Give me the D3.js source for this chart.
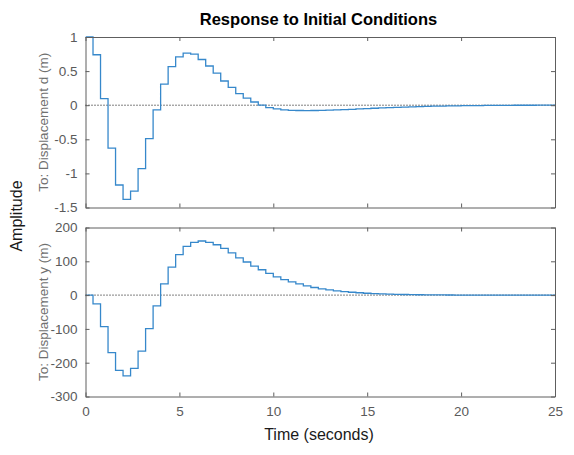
<!DOCTYPE html>
<html><head><meta charset="utf-8">
<script src="https://cdn.jsdelivr.net/npm/d3@7"></script>
<style>body{margin:0;background:#fff;}svg{display:block;font-family:"Liberation Sans",Arial,sans-serif;}</style>
</head><body>
<svg id="c" width="574" height="455"></svg>
<script>
const Ts = 0.4;
const xTicks = [0, 5, 10, 15, 20, 25];
const dTicks = [1, 0.5, 0, -0.5, -1, -1.5];
const yTicks = [200, 100, 0, -100, -200, -300];
const dValues = [1.0, 0.74, 0.095, -0.63, -1.17, -1.38, -1.26, -0.93, -0.49, -0.07,
  0.31, 0.565, 0.71, 0.765, 0.75, 0.67, 0.575, 0.47, 0.355, 0.26,
  0.17, 0.105, 0.047, 0.0, -0.035, -0.055, -0.068, -0.075, -0.078, -0.079,
  -0.078, -0.076, -0.073, -0.069, -0.065, -0.06, -0.055, -0.05, -0.045, -0.04,
  -0.036, -0.032, -0.028, -0.024, -0.021, -0.018, -0.015, -0.013, -0.011, -0.009,
  -0.007, -0.006, -0.005, -0.004, -0.003, -0.002, -0.002, -0.001, -0.001, -0.001,
  0, 0, 0];
const yValues = [0, -26, -93, -170, -223, -239, -217, -166, -99, -32,
  33, 83, 120, 144, 156, 160, 156, 149, 138, 125,
  110, 98, 86, 75, 64, 54, 46, 39, 33, 27.5,
  22.5, 18.5, 15.5, 12.5, 10.5, 8.5, 7, 5.5, 4.5, 3.6,
  2.9, 2.3, 1.8, 1.4, 1.1, 0.8, 0.6, 0.4, 0.3, 0.2,
  0.1, 0.05, 0, 0, 0, 0, 0, 0, 0, 0,
  0, 0, 0];
const yLabels = ["To: Displacement d (m)", "To: Displacement y (m)"];

const svg = d3.select("#c");
const L = 85.5, R = 555;
const x = d3.scaleLinear().domain([0, 25]).range([L, R]);
const fmt = d => String(d);
const panels = [
  {vals: dValues, ticks: dTicks, dom: [-1.5, 1], top: 37, bot: 207.5, label: yLabels[0]},
  {vals: yValues, ticks: yTicks, dom: [-300, 200], top: 227.5, bot: 396.5, label: yLabels[1]}
];
const axisCol = "#5e5e5e", textCol = "#5a5a5a";

panels.forEach((p, i) => {
  const y = d3.scaleLinear().domain(p.dom).range([p.bot, p.top]);
  const g = svg.append("g");
  const cid = "clip" + i;
  svg.append("clipPath").attr("id", cid).append("rect")
    .attr("x", L).attr("y", p.top - 1).attr("width", R - L).attr("height", p.bot - p.top + 2);
  g.append("line").attr("x1", L).attr("x2", R).attr("y1", y(0)).attr("y2", y(0))
    .attr("stroke", "#000").attr("stroke-width", 1).attr("stroke-dasharray", "1,2");
  const pts = p.vals.map((v, k) => [k * Ts, v]);
  pts.push([p.vals.length * Ts, p.vals[p.vals.length - 1]]);
  g.append("path").attr("clip-path", `url(#${cid})`)
    .attr("d", d3.line().x(d => x(d[0])).y(d => y(d[1])).curve(d3.curveStepAfter)(pts))
    .attr("fill", "none").attr("stroke", "#3688cb").attr("stroke-width", 1.3);
  const ax = (gen, tx, ty) => {
    const a = svg.append("g").attr("transform", `translate(${tx},${ty})`).call(gen);
    a.select(".domain").attr("stroke", axisCol);
    a.selectAll(".tick line").attr("stroke", axisCol);
    a.selectAll("text").attr("fill", textCol).attr("font-size", 13.5).attr("font-family", '"Liberation Sans",Arial,sans-serif');
    return a;
  };
  ax(d3.axisLeft(y).tickValues(p.ticks).tickSize(-4).tickSizeOuter(0).tickPadding(8).tickFormat(fmt), L, 0);
  ax(d3.axisRight(y).tickValues(p.ticks).tickSize(-4).tickSizeOuter(0).tickFormat(""), R, 0);
  ax(d3.axisTop(x).tickValues(xTicks).tickSize(-4).tickSizeOuter(0).tickFormat(""), 0, p.top);
  ax(d3.axisBottom(x).tickValues(xTicks).tickSize(-4).tickSizeOuter(0).tickPadding(10)
    .tickFormat(i === 1 ? fmt : ""), 0, p.bot);
  svg.append("text").attr("transform", `translate(44,${(p.top + p.bot) / 2}) rotate(-90)`)
    .attr("text-anchor", "middle").attr("dominant-baseline", "middle")
    .attr("font-size", 13.5).attr("fill", "#707070").text(p.label);
});

svg.append("text").attr("x", 318.5).attr("y", 25).attr("text-anchor", "middle")
  .attr("font-size", 16.5).attr("font-weight", "bold").attr("fill", "#000").text("Response to Initial Conditions");
svg.append("text").attr("x", 319).attr("y", 440).attr("text-anchor", "middle")
  .attr("font-size", 16).attr("fill", "#1a1a1a").text("Time (seconds)");
svg.append("text").attr("transform", "translate(22,216) rotate(-90)").attr("text-anchor", "middle")
  .attr("font-size", 16).attr("fill", "#1a1a1a").text("Amplitude");
</script>
</body></html>
